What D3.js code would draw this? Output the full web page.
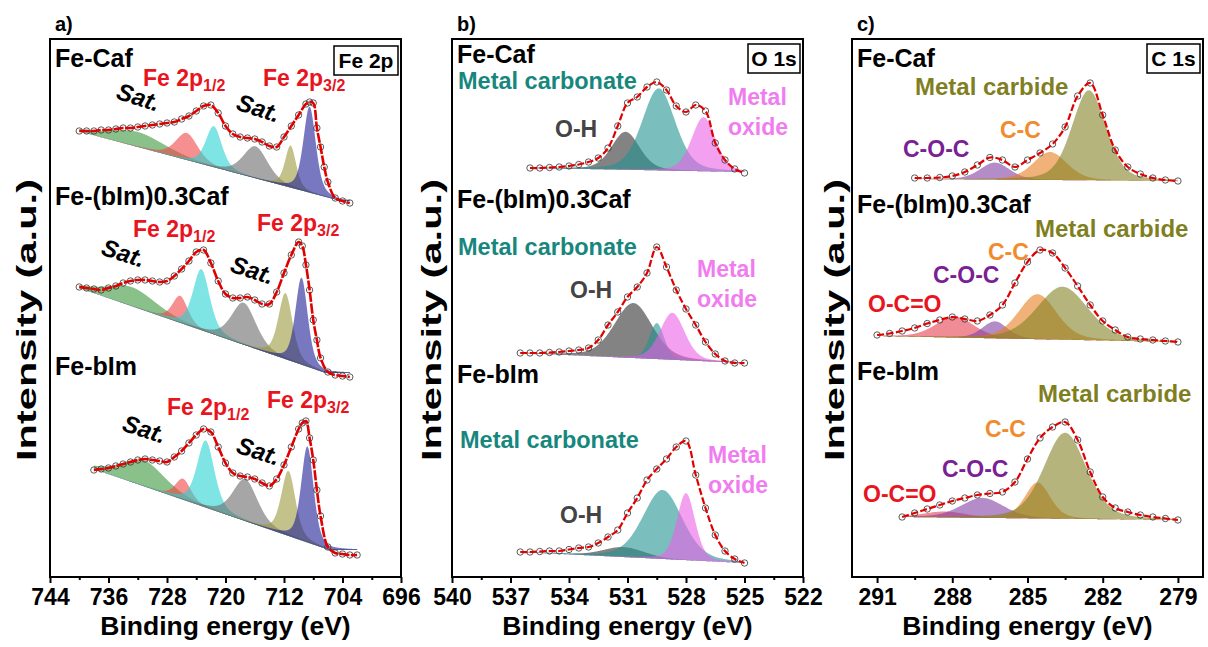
<!DOCTYPE html>
<html>
<head>
<meta charset="utf-8">
<script src="https://cdn.jsdelivr.net/npm/d3@7"></script>
<style>
  body { margin: 0; background: #fff; }
  text { font-family: "Liberation Sans", Arial, sans-serif; font-weight: bold; }
</style>
</head>
<body>
<svg id="chart" width="1208" height="647"></svg>
<script>
// ---- data (binding energy eV, intensity a.u. relative to each spectrum's low-BE end) ----
var samples = ["Fe-Caf", "Fe-(bIm)0.3Caf", "Fe-bIm"];

// Fe 2p
var fe2pTicks = [744, 736, 728, 720, 712, 704, 696];
var fe2pMinor = [740, 732, 724, 716, 708, 700];
var fe2pOffsets = [374, 200, 22];
var feCafFe2p = [[740,72],[739,72],[738,72],[737,73],[736,73],[735,74],[734,75],[733,75],[732,76],[731,77],[730,78],[729,79],[728,80],[727,81],[726,84],[725,87],[724,92],[723,97],[722,98],[721,90],[720,77],[719,69],[718,66],[717,65],[716,64],[715,61],[714,57],[713,56],[712,66],[711,77],[710,88],[709,99],[708.5,101],[708,100],[707.5,75],[707,56],[706.5,36],[706,21],[705,5],[704,2],[703,0]];
var feMixFe2p = [[740,90],[739,89],[738,88],[737,87],[736,89],[735,91],[734,94],[733,96],[732,97],[731,97],[730,96],[729,95],[728,96],[727,101],[726,108],[725,116],[724,125],[723,127],[722,114],[721,96],[720,83],[719,79],[718,79],[717,80],[716,77],[715,73],[714,73],[713,85],[712,104],[711,122],[710,135],[709.5,131],[709,112],[708.5,87],[708,57],[707.5,37],[707,19],[706,5],[705,2],[704,1],[703,0]];
var feBimFe2p = [[738,85],[737,86],[736,87],[735,89],[734,91],[733,93],[732,95],[731,96],[730,95],[729,94],[728,93],[727,98],[726,104],[725,112],[724,120],[723,126],[722,123],[721,108],[720,92],[719,82],[718,79],[717,78],[716,76],[715,72],[714,69],[713,76],[712,90],[711,108],[710,126],[709.5,132],[709,134],[708.5,117],[708,95],[707.5,65],[707,39],[706,8],[705,2],[704,1],[703,0],[702,0]];
var feCafFe2pBase = [[740.2,72],[704.2,2]];
var feMixFe2pBase = [[740,89],[706.3,4]];
var feBimFe2pBase = [[738,86],[705.8,5]];
// fitted components: [centre eV, height, FWHM eV]
var feCafFe2pPeaks = [[732,15,9],[725.3,27,3.6],[721.6,41,2.6],[715.9,32,4],[711.1,42,1.8],[708.5,86,2]];
var feMixFe2pPeaks = [[732.8,19,8],[726.2,27,2.5],[723.3,61,2.7],[717.5,42,4],[711.8,66,2.3],[709.6,87,2]];
var feBimFe2pPeaks = [[731.2,26,7],[725.8,21,2.5],[722.7,67,2.8],[717.3,42,4],[711.4,65,2.3],[708.8,96,2]];

// O 1s
var o1sTicks = [540, 537, 534, 531, 528, 525, 522];
var o1sMinor = [538.5, 535.5, 532.5, 529.5, 526.5, 523.5];
var o1sOffsets = [404, 214, 14];
var feCafO1s = [[536,5],[535.5,5],[535,5.5],[534.5,6],[534,7],[533.5,8.5],[533,11],[532.5,15],[532,25],[531.5,47],[531,70],[530.5,76],[530,86],[529.5,91],[529,83],[528.5,67],[528,61],[527.5,68],[527,62],[526.5,30],[526,13],[525.5,4],[525,0]];
var feMixO1s = [[536.5,10],[536,10],[535.5,10],[535,10.5],[534.5,11],[534,12],[533.5,13],[533,15],[532.5,23],[532,38],[531.5,51],[531,66],[530.5,76],[530,90],[529.5,116],[529,96],[528.5,73],[528,54],[527.5,38],[527,21],[526.5,9],[526,2],[525.5,0],[525,0]];
var feBimO1s = [[536.5,11],[536,11],[535.5,11.5],[535,12],[534.5,12],[534,13.5],[533.5,15],[533,16],[532.5,20],[532,26],[531.5,33],[531,50],[530.5,65],[530,83],[529.5,94],[529,104],[528.5,116],[528,122],[527.5,88],[527,55],[526.5,28],[526,12],[525.5,4],[525,0]];
var feCafO1sBase = [[536,5],[525,1]];
var feMixO1sBase = [[536.5,10],[525,0]];
var feBimO1sBase = [[536.5,11],[525,0]];
var feCafO1sPeaks = [[531.1,38,1.7],[529.4,82,2],[527.1,54,1.45]];
var feMixO1sPeaks = [[530.7,55,2.3],[529.5,36,0.9],[528.7,47,1.5]];
var feBimO1sPeaks = [[531.2,10,2.5],[529.2,69,2.4],[528,67,1.1]];

// C 1s
var c1sTicks = [291, 288, 285, 282, 279];
var c1sMinor = [289.5, 286.5, 283.5, 280.5];
var c1sOffsets = [396, 235, 57];
var feCafC1s = [[289.5,3],[289,3],[288.5,3.5],[288,5],[287.5,9],[287,16],[286.5,23.5],[286,21],[285.5,14],[285,21],[284.5,28],[284,37],[283.5,54],[283,85],[282.5,98],[282,66],[281.5,31],[281,14],[280.5,7],[280,3],[279.5,1],[279,0]];
var feMixC1s = [[291,7],[290.5,8.5],[290,11],[289.5,14],[289,18.5],[288.5,22],[288,25],[287.5,23],[287,21],[286.5,27],[286,37],[285.5,59],[285,80],[284.5,92],[284,89],[283.5,74],[283,56],[282.5,37],[282,21],[281.5,12],[281,5],[280.5,3],[280,2],[279.5,1],[279,0]];
var feBimC1s = [[290,3],[289.5,7],[289,11],[288.5,15],[288,19],[287.5,22],[287,25],[286.5,26.5],[286,28],[285.5,38],[285,61],[284.5,82],[284,93],[283.5,98],[283,80],[282.5,48],[282,23],[281.5,12],[281,8],[280.5,5],[280,3],[279.5,1.5],[279,0]];
var feCafC1sBase = [[289.5,2],[279,0]];
var feMixC1sBase = [[291,6],[279,0]];
var feBimC1sBase = [[290,3],[279,0]];
var feCafC1sPeaks = [[286.3,17,1.4],[284.1,28,1.6],[282.55,90,1.6]];
var feMixC1sPeaks = [[287.9,21,1.8],[286.3,17,1.2],[284.6,45,1.8],[283.6,53,2.4]];
var feBimC1sPeaks = [[288.3,6,2],[286.8,20,2],[284.6,36,1.2],[283.5,86,2]];

// ---- styles ----
var fe2pColors = ["#3c963c", "#f04646", "#28d2d2", "#6a6a6a", "#9a9a3c", "#1e1e96"];
var o1sColors = ["#303030", "#219491", "#eb61e6"];
var c1sColors3 = ["#823fa3", "#e67f1e", "#828225"];
var c1sColors4 = ["#e63f50", "#823fa3", "#e67f1e", "#828225"];

var red = "#e8141e", teal = "#17877e", pink = "#f07cf0", grayTxt = "#444",
    olive = "#7f7f1f", orange = "#f08c30", purple = "#7b1f96";

var plotTop = 39, plotBottom = 577, plotW = 351;
var svg = d3.select("#chart");

// Gaussian-Lorentzian (pseudo-Voigt) line shape used by the fit
function glPeak(pk, eta) {
    return function(e) {
        var u = (e - pk[0]) / pk[2];
        return pk[1] * ((1 - eta) * Math.exp(-4 * Math.LN2 * u * u) + eta / (1 + 4 * u * u));
    };
}

function drawPanel(p) {
    var x = d3.scaleLinear().domain(p.domain).range([p.left, p.left + plotW]);
    var y = d3.scaleLinear().domain([0, 538]).range([plotBottom, plotTop]);
    var g = svg.append("g");

    p.spectra.forEach(function(s, i) {
        var off = p.offsets[i];
        var ext = d3.extent(s.data, function(d) { return d[0]; });
        var base = d3.scaleLinear()
            .domain([s.base[0][0], s.base[1][0]])
            .range([s.base[0][1], s.base[1][1]])
            .clamp(true);
        // fine energy grid only for drawing the fitted component curves
        var grid = d3.range(ext[1], ext[0] - 0.001, -0.04);

        s.peaks.forEach(function(pk, j) {
            var comp = glPeak(pk, p.eta);
            var area = d3.area()
                .x(function(e) { return x(e); })
                .y0(function(e) { return y(off + base(e)); })
                .y1(function(e) { return y(off + base(e) + comp(e)); });
            g.append("path")
                .attr("d", area(grid))
                .attr("fill", s.colors[j])
                .attr("fill-opacity", 0.6);
        });

        g.selectAll(null)
            .data(s.data)
            .enter().append("circle")
            .attr("cx", function(d) { return x(d[0]); })
            .attr("cy", function(d) { return y(off + d[1]); })
            .attr("r", 3.2)
            .attr("fill", "none")
            .attr("stroke", "#333")
            .attr("stroke-width", 0.8);

        var line = d3.line()
            .x(function(d) { return x(d[0]); })
            .y(function(d) { return y(off + d[1]); })
            .curve(d3.curveCatmullRom.alpha(0.5));
        g.append("path")
            .attr("d", line(s.data))
            .attr("fill", "none")
            .attr("stroke", "#e00000")
            .attr("stroke-width", p.lineW)
            .attr("stroke-dasharray", p.dash);
    });

    // frame
    g.append("rect")
        .attr("x", p.left).attr("y", plotTop)
        .attr("width", plotW).attr("height", plotBottom - plotTop)
        .attr("fill", "none").attr("stroke", "#000").attr("stroke-width", 2);

    // axes
    var ax = g.append("g")
        .attr("transform", "translate(0," + plotBottom + ")")
        .call(d3.axisBottom(x).tickValues(p.ticks).tickSize(6).tickPadding(6));
    ax.select(".domain").remove();
    ax.selectAll("line").attr("stroke-width", 2);
    ax.selectAll("text").attr("font-size", 23).attr("fill", "#000")
        .style("font-family", "'Liberation Sans', Arial, sans-serif").style("font-weight", "bold");
    var axm = g.append("g")
        .attr("transform", "translate(0," + plotBottom + ")")
        .call(d3.axisBottom(x).tickValues(p.minor).tickSize(3).tickFormat(""));
    axm.select(".domain").remove();
    axm.selectAll("line").attr("stroke-width", 2);

    g.append("text")
        .attr("x", p.left + plotW / 2).attr("y", 635)
        .attr("text-anchor", "middle").attr("font-size", 26.5)
        .text("Binding energy (eV)");
    g.append("text")
        .attr("transform", "translate(" + p.ylabX + ",320) rotate(-90)")
        .attr("text-anchor", "middle").attr("font-size", 28)
        .attr("textLength", 282).attr("lengthAdjust", "spacingAndGlyphs")
        .text("Intensity (a.u.)");

    // panel letter
    g.append("text").attr("x", p.left + 5).attr("y", 31).attr("font-size", 20).text(p.letter);

    // core-level box
    g.append("rect")
        .attr("x", p.left + plotW - 3 - p.boxW).attr("y", p.boxY)
        .attr("width", p.boxW).attr("height", 29)
        .attr("fill", "#fff").attr("stroke", "#000").attr("stroke-width", 1.5);
    g.append("text")
        .attr("x", p.left + plotW - 3 - p.boxW / 2).attr("y", p.boxY + 22)
        .attr("text-anchor", "middle").attr("font-size", 21)
        .text(p.core);

    // sample names
    samples.forEach(function(nm, i) {
        g.append("text")
            .attr("x", p.left + 5).attr("y", p.nameY[i])
            .attr("font-size", 25).text(nm);
    });

    // annotations
    p.notes.forEach(function(n) {
        var t = g.append("text")
            .attr("font-size", n.size || 23)
            .attr("fill", n.color)
            .attr("text-anchor", n.anchor || "start");
        if (n.rot) {
            t.attr("transform", "translate(" + n.x + "," + n.y + ") rotate(" + n.rot + ")")
                .attr("font-style", "italic");
        } else {
            t.attr("x", n.x).attr("y", n.y);
        }
        t.append("tspan").text(n.text);
        if (n.sub) {
            t.append("tspan").attr("font-size", 16).attr("dy", 5).text(n.sub);
        }
    });
}

function feNotes() {
    var rows = [[86, 86, 105, 116], [237, 231, 261, 278], [415, 408, 437, 459]];
    var x12 = [143, 133, 167], x32 = [263, 257, 267], sat1 = [136, 121, 142], sat2 = [256, 250, 256];
    var out = [];
    rows.forEach(function(r, i) {
        out.push({ text: "Fe 2p", sub: "1/2", x: x12[i], y: r[0], color: red });
        out.push({ text: "Fe 2p", sub: "3/2", x: x32[i], y: r[1], color: red });
        out.push({ text: "Sat.", x: sat1[i], y: r[2], color: "#000", rot: 18, anchor: "middle", size: 24 });
        out.push({ text: "Sat.", x: sat2[i], y: r[3], color: "#000", rot: 18, anchor: "middle", size: 24 });
    });
    return out;
}

drawPanel({
    letter: "a)", core: "Fe 2p", left: 50, boxY: 46, boxW: 64, ylabX: 36,
    eta: 0.45, dash: "10,1.5", lineW: 2.6,
    domain: [744, 696], ticks: fe2pTicks, minor: fe2pMinor, offsets: fe2pOffsets,
    nameY: [67, 205, 375],
    spectra: [
        { data: feCafFe2p, base: feCafFe2pBase, peaks: feCafFe2pPeaks, colors: fe2pColors },
        { data: feMixFe2p, base: feMixFe2pBase, peaks: feMixFe2pPeaks, colors: fe2pColors },
        { data: feBimFe2p, base: feBimFe2pBase, peaks: feBimFe2pPeaks, colors: fe2pColors }
    ],
    notes: feNotes()
});

drawPanel({
    letter: "b)", core: "O 1s", left: 452, boxY: 44, boxW: 52, ylabX: 441,
    eta: 0.3, dash: "7,2.5", lineW: 2.2,
    domain: [540, 522], ticks: o1sTicks, minor: o1sMinor, offsets: o1sOffsets,
    nameY: [63, 208, 383],
    spectra: [
        { data: feCafO1s, base: feCafO1sBase, peaks: feCafO1sPeaks, colors: o1sColors },
        { data: feMixO1s, base: feMixO1sBase, peaks: feMixO1sPeaks, colors: o1sColors },
        { data: feBimO1s, base: feBimO1sBase, peaks: feBimO1sPeaks, colors: o1sColors }
    ],
    notes: [
        { text: "Metal carbonate", x: 458, y: 89, color: teal, size: 23.5 },
        { text: "O-H", x: 555, y: 137, color: grayTxt },
        { text: "Metal", x: 728, y: 105, color: pink },
        { text: "oxide", x: 728, y: 135, color: pink },
        { text: "Metal carbonate", x: 458, y: 255, color: teal, size: 23.5 },
        { text: "O-H", x: 570, y: 298, color: grayTxt },
        { text: "Metal", x: 697, y: 277, color: pink },
        { text: "oxide", x: 697, y: 307, color: pink },
        { text: "Metal carbonate", x: 460, y: 448, color: teal, size: 23.5 },
        { text: "O-H", x: 560, y: 523, color: grayTxt },
        { text: "Metal", x: 708, y: 463, color: pink },
        { text: "oxide", x: 708, y: 493, color: pink }
    ]
});

drawPanel({
    letter: "c)", core: "C 1s", left: 852, boxY: 44, boxW: 53, ylabX: 844,
    eta: 0.3, dash: "7,2.5", lineW: 2.2,
    domain: [292, 278], ticks: c1sTicks, minor: c1sMinor, offsets: c1sOffsets,
    nameY: [67, 213, 380],
    spectra: [
        { data: feCafC1s, base: feCafC1sBase, peaks: feCafC1sPeaks, colors: c1sColors3 },
        { data: feMixC1s, base: feMixC1sBase, peaks: feMixC1sPeaks, colors: c1sColors4 },
        { data: feBimC1s, base: feBimC1sBase, peaks: feBimC1sPeaks, colors: c1sColors4 }
    ],
    notes: [
        { text: "Metal carbide", x: 915, y: 95, color: olive, size: 24 },
        { text: "C-C", x: 1000, y: 138, color: orange },
        { text: "C-O-C", x: 903, y: 157, color: purple },
        { text: "Metal carbide", x: 1035, y: 237, color: olive, size: 24 },
        { text: "C-C", x: 988, y: 260, color: orange },
        { text: "C-O-C", x: 933, y: 283, color: purple },
        { text: "O-C=O", x: 868, y: 312, color: red },
        { text: "Metal carbide", x: 1038, y: 402, color: olive, size: 24 },
        { text: "C-C", x: 985, y: 437, color: orange },
        { text: "C-O-C", x: 942, y: 477, color: purple },
        { text: "O-C=O", x: 863, y: 502, color: red }
    ]
});
</script>
</body>
</html>
